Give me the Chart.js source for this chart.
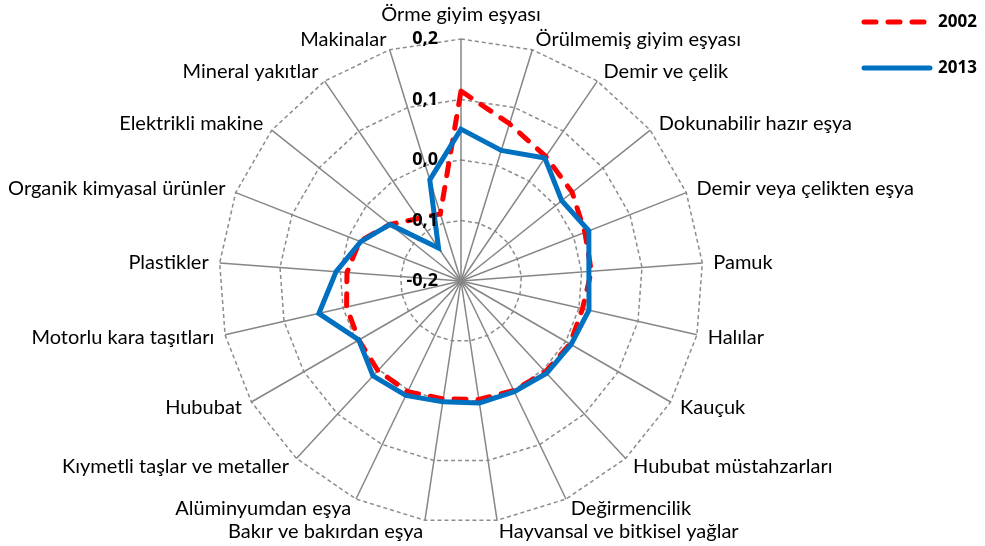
<!DOCTYPE html>
<html>
<head>
<meta charset="utf-8">
<script src="https://cdn.jsdelivr.net/npm/chart.js@4/dist/chart.umd.min.js"></script>
<style>
  html, body { margin: 0; padding: 0; background: #ffffff; }
  #wrap { width: 985px; height: 546px; }
</style>
</head>
<body>
<div id="wrap"><canvas id="c" width="985" height="546"></canvas></div>
<script>
const categories = [
  "Örme giyim eşyası",
  "Örülmemiş giyim eşyası",
  "Demir ve çelik",
  "Dokunabilir hazır eşya",
  "Demir veya çelikten eşya",
  "Pamuk",
  "Halılar",
  "Kauçuk",
  "Hububat müstahzarları",
  "Değirmencilik",
  "Hayvansal ve bitkisel yağlar",
  "Bakır ve bakırdan eşya",
  "Alüminyumdan eşya",
  "Kıymetli taşlar ve metaller",
  "Hububat",
  "Motorlu kara taşıtları",
  "Plastikler",
  "Organik kimyasal ürünler",
  "Elektrikli makine",
  "Mineral yakıtlar",
  "Makinalar"
];
const values2002 = [0.114, 0.072, 0.049, 0.035, 0.020, 0.016, 0.006, 0.008, 0.005, 0.001, -0.002,
                    -0.003, 0.003, 0.002, -0.005, -0.006, -0.011, -0.020, -0.050, -0.075, -0.084];
const values2013 = [0.051, 0.026, 0.046, 0.013, 0.027, 0.012, 0.017, 0.010, 0.008, 0.003, 0.004,
                    0.002, 0.010, 0.014, -0.005, 0.041, 0.007, -0.022, -0.050, -0.134, -0.025];
const seriesNames = ["2002", "2013"];
const tickLabels = ["-0,2", "-0,1", "0,0", "0,1", "0,2"];

const labelFont = "20px Lato";
const boldFont = "bold 18px 'Open Sans'";

const customDraw = {
  id: 'customDraw',
  afterDraw(chart) {
    const ctx = chart.ctx;
    const scale = chart.scales.r;
    const outer = scale.getDistanceFromCenterForValue(scale.max);
    ctx.save();
    // point labels
    ctx.font = labelFont;
    ctx.fillStyle = '#000000';
    ctx.textBaseline = 'middle';
    categories.forEach((lab, i) => {
      const p = scale.getPointPosition(i, outer + 11);
      const ang = (p.angle + Math.PI / 2);
      const s = Math.sin(ang);
      let y = p.y;
      if (Math.abs(s) < 0.05) {
        ctx.textAlign = 'center';
        if (Math.cos(ang) > 0) y = scale.yCenter - outer - 24;
      } else if (s > 0) {
        ctx.textAlign = 'left';
      } else {
        ctx.textAlign = 'right';
      }
      ctx.fillText(lab, p.x, y);
    });
    // tick labels
    ctx.font = boldFont;
    ctx.textAlign = 'right';
    ctx.textBaseline = 'middle';
    scale.ticks.forEach((t, idx) => {
      const d = scale.getDistanceFromCenterForValue(t.value);
      ctx.fillText(tickLabels[idx], scale.xCenter - 23, scale.yCenter - d);
    });
    // legend
    const items = [
      { y: 22, color: '#FF0000', dash: [12, 12] },
      { y: 68, color: '#0070C0', dash: [] }
    ];
    items.forEach((it, k) => {
      ctx.beginPath();
      ctx.strokeStyle = it.color;
      ctx.lineWidth = 5;
      ctx.lineCap = 'round';
      ctx.setLineDash(it.dash);
      ctx.moveTo(864, it.y);
      ctx.lineTo(930, it.y);
      ctx.stroke();
      ctx.setLineDash([]);
      ctx.font = "bold 17px 'Open Sans'";
      ctx.fillStyle = '#000000';
      ctx.textAlign = 'left';
      ctx.fillText(seriesNames[k], 938, it.y);
    });
    ctx.restore();
  }
};

new Chart(document.getElementById('c'), {
  type: 'radar',
  data: {
    labels: categories,
    datasets: [
      {
        label: seriesNames[1],
        data: values2013,
        borderColor: '#0070C0',
        borderWidth: 5,
        fill: false,
        pointRadius: 0,
        borderJoinStyle: 'miter',
        order: 0
      },
      {
        label: seriesNames[0],
        data: values2002,
        borderColor: '#FF0000',
        borderWidth: 5,
        borderDash: [12, 12],
        borderCapStyle: 'round',
        fill: false,
        pointRadius: 0,
        order: 1
      }
    ]
  },
  options: {
    responsive: false,
    animation: false,
    layout: { padding: { top: 39, bottom: 23, left: 219, right: 282 } },
    plugins: { legend: { display: false }, tooltip: { enabled: false } },
    elements: { line: { tension: 0 } },
    scales: {
      r: {
        min: -0.2,
        max: 0.2,
        ticks: { stepSize: 0.1, display: false },
        pointLabels: { display: false },
        angleLines: { display: true, color: '#868686', lineWidth: 1.5 },
        grid: { color: '#8c8c8c', lineWidth: 1.5 },
        border: { dash: [4, 3] }
      }
    }
  },
  plugins: [customDraw]
});
</script>
</body>
</html>
